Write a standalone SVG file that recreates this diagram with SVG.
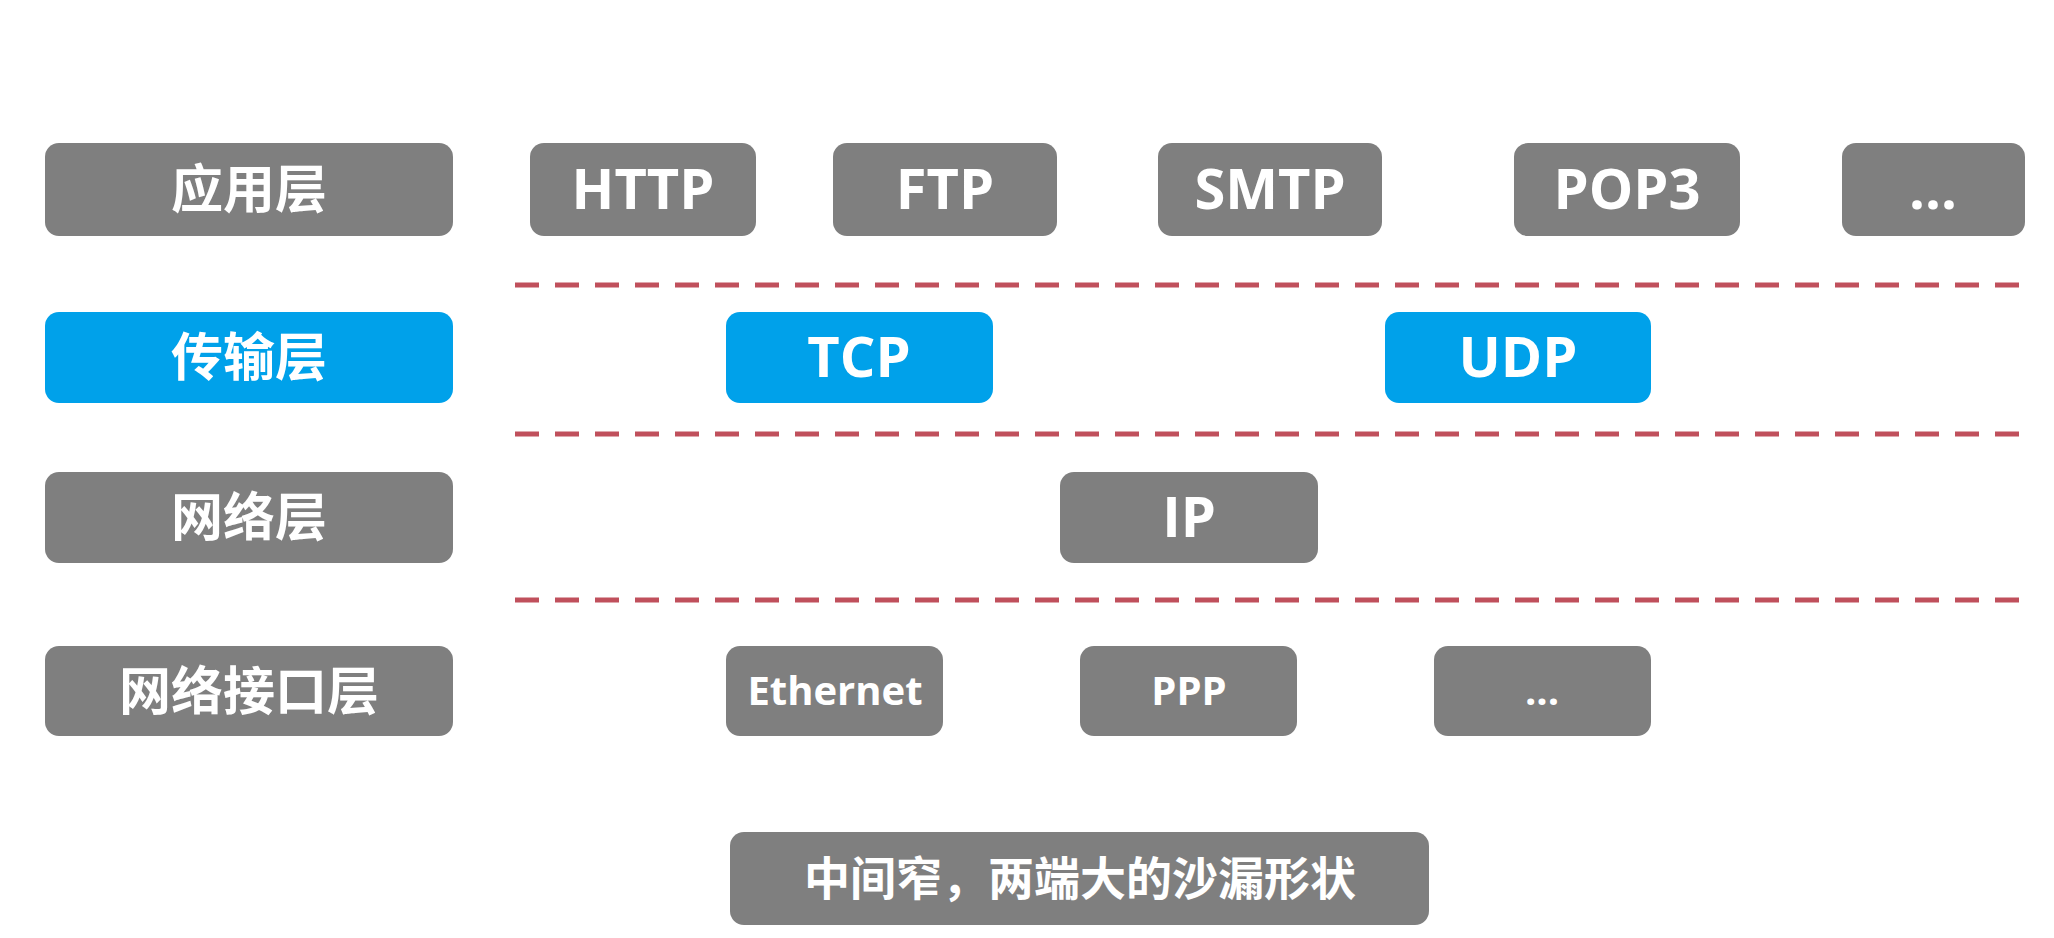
<svg xmlns="http://www.w3.org/2000/svg" width="2054" height="938" viewBox="0 0 2054 938">
<style>
.g{fill:#7f7f7f}
.b{fill:#00a1ea}
.t{fill:#fff;font-family:"Open Sans","Noto Sans CJK SC",sans-serif;font-weight:bold;text-anchor:middle}
.cn{font-family:"Noto Sans CJK SC","Open Sans",sans-serif;font-size:52px}
.l{font-size:56px}
.s{font-size:40px}
.d{stroke:#c0505c;stroke-width:5;stroke-dasharray:24 16;fill:none}
</style>
<rect width="2054" height="938" fill="#fff"/>
<g id="connectors">
<line class="d" x1="515" y1="285" x2="2025" y2="285"/>
<line class="d" x1="515" y1="434" x2="2025" y2="434"/>
<line class="d" x1="515" y1="600" x2="2025" y2="600"/>
</g>
<g id="app-layer"><rect class="g" x="45" y="143" width="408" height="93" rx="14"/><text class="t cn" x="249" y="208">应用层</text></g>
<g id="http"><rect class="g" x="530" y="143" width="226" height="93" rx="14"/><text class="t l" x="643" y="209">HTTP</text></g>
<g id="ftp"><rect class="g" x="833" y="143" width="224" height="93" rx="14"/><text class="t l" x="945" y="209">FTP</text></g>
<g id="smtp"><rect class="g" x="1158" y="143" width="224" height="93" rx="14"/><text class="t l" x="1270" y="209">SMTP</text></g>
<g id="pop3"><rect class="g" x="1514" y="143" width="226" height="93" rx="14"/><text class="t l" x="1627" y="209">POP3</text></g>
<g id="app-more"><rect class="g" x="1842" y="143" width="183" height="93" rx="14"/><text class="t l" x="1933" y="209">...</text></g>
<g id="transport-layer"><rect class="b" x="45" y="312" width="408" height="91" rx="14"/><text class="t cn" x="249" y="376">传输层</text></g>
<g id="tcp"><rect class="b" x="726" y="312" width="267" height="91" rx="14"/><text class="t l" x="859" y="377">TCP</text></g>
<g id="udp"><rect class="b" x="1385" y="312" width="266" height="91" rx="14"/><text class="t l" x="1518" y="377">UDP</text></g>
<g id="network-layer"><rect class="g" x="45" y="472" width="408" height="91" rx="14"/><text class="t cn" x="249" y="536">网络层</text></g>
<g id="ip"><rect class="g" x="1060" y="472" width="258" height="91" rx="14"/><text class="t l" x="1189" y="537">IP</text></g>
<g id="link-layer"><rect class="g" x="45" y="646" width="408" height="90" rx="14"/><text class="t cn" x="249" y="710">网络接口层</text></g>
<g id="ethernet"><rect class="g" x="726" y="646" width="217" height="90" rx="14"/><text class="t s" x="835" y="705">Ethernet</text></g>
<g id="ppp"><rect class="g" x="1080" y="646" width="217" height="90" rx="14"/><text class="t s" x="1189" y="705">PPP</text></g>
<g id="link-more"><rect class="g" x="1434" y="646" width="217" height="90" rx="14"/><text class="t s" x="1542" y="705">...</text></g>
<g id="note"><rect class="g" x="730" y="832" width="699" height="93" rx="14"/><text class="t cn" x="1080" y="895" style="font-size:46px">中间窄，两端大的沙漏形状</text></g>
</svg>
